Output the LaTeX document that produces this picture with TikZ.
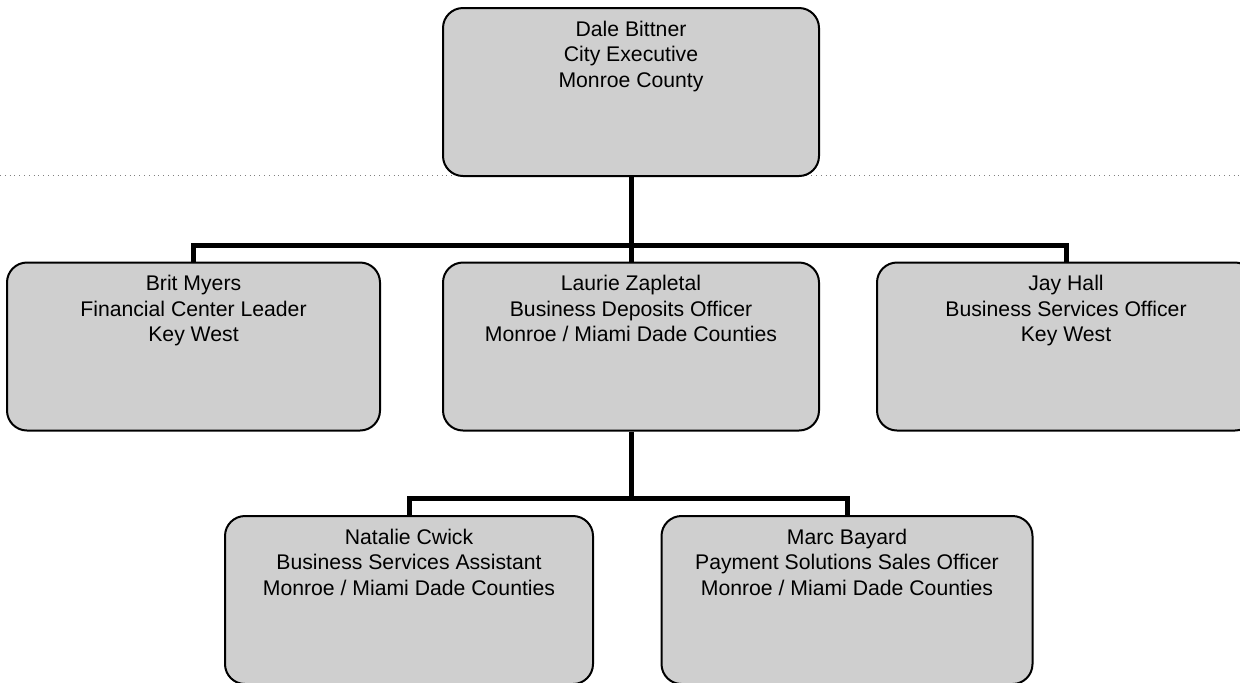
\documentclass[tikz,border=0pt]{standalone}
\usepackage{fontspec}
\setmainfont{Liberation Sans}

\definecolor{cardgray}{gray}{0.81}

\tikzset{
    person/.style={draw, line width=1pt, rounded corners=10pt, fill=cardgray,
        inner sep=0pt, minimum width=188pt, minimum height=84pt},
    link/.style={line width=2.5pt}
}
\newcommand{\cardtext}[1]{\parbox[c][80pt][t]{180pt}{\centering
    \fontsize{10.6}{12.75}\selectfont\rule{0pt}{12pt}#1}}

\begin{document}
\begin{tikzpicture}[x=0.5pt,y=-0.5pt]

    \useasboundingbox (0,0) rectangle (1240,682);
    \clip (0,0) rectangle (1240,682);

    \draw[gray, dotted, line width=0.4pt] (0,175) -- (1240,175);

    \node[person] (dale) at (631,92) {\cardtext{Dale Bittner\\City Executive\\Monroe County}};

    \node[person, minimum width=186.5pt] (brit) at (193.5,346.5) {\cardtext{Brit Myers\\Financial Center Leader\\Key West}};
    \node[person] (laurie) at (631,346.5) {\cardtext{Laurie Zapletal\\Business Deposits Officer\\Monroe / Miami Dade Counties}};
    \node[person, minimum width=189pt] (jay) at (1066,346.5) {\cardtext{Jay Hall\\Business Services Officer\\Key West}};

    \node[person, minimum width=184pt] (natalie) at (409,600) {\cardtext{Natalie Cwick\\Business Services Assistant\\Monroe / Miami Dade Counties}};
    \node[person, minimum width=185.5pt] (marc) at (847,600) {\cardtext{Marc Bayard\\Payment Solutions Sales Officer\\Monroe / Miami Dade Counties}};

    \coordinate (bus) at (631,245);
    \coordinate (subbus) at (631,498);

    \draw[link] (dale.south) -- (laurie.north);
    \draw[link] (brit.north) |- (bus) -| (jay.north);

    \draw[link] (laurie.south) -- (subbus);
    \draw[link] (natalie.north) |- (subbus) -| (marc.north);
\end{tikzpicture}
\end{document}
